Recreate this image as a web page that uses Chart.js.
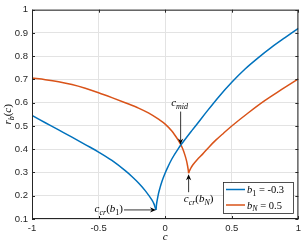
<!DOCTYPE html>
<html>
<head>
<meta charset="utf-8">
<script src="https://cdn.jsdelivr.net/npm/chart.js@4.4.1/dist/chart.umd.min.js"></script>
<style>
  html, body { margin: 0; padding: 0; background: #fff; }
  #wrap { width: 305px; height: 245px; }
</style>
</head>
<body>
<div id="wrap"><canvas id="chart" width="305" height="245"></canvas></div>
<script>
// b_1 = -0.3 (blue), split at the cusp c_cr(b_1)
const blueLeftC = [-1, -0.9, -0.8, -0.7, -0.6, -0.5, -0.4, -0.3, -0.25, -0.2, -0.15, -0.1, -0.085, -0.069];
const blueLeftR = [0.545, 0.514, 0.483, 0.452, 0.42, 0.388, 0.352, 0.308, 0.283, 0.255, 0.222, 0.182, 0.166, 0.139];
const blueRightC = [-0.069, -0.066, -0.062, -0.057, -0.05, -0.039, -0.025, -0.015, 0, 0.017, 0.05, 0.1, 0.133, 0.2, 0.244, 0.3, 0.4, 0.5, 0.6, 0.7, 0.8, 0.9, 1];
const blueRightR = [0.139, 0.158, 0.175, 0.19, 0.21, 0.234, 0.26, 0.276, 0.298, 0.32, 0.358, 0.404, 0.43, 0.48, 0.512, 0.553, 0.624, 0.688, 0.745, 0.794, 0.839, 0.88, 0.92];

// b_N = 0.5 (orange), split at the cusp c_cr(b_N)
const orangeLeftC = [-1, -0.9, -0.8, -0.7, -0.6, -0.5, -0.4, -0.3, -0.2, -0.126, -0.05, 0, 0.05, 0.072, 0.1, 0.116, 0.13, 0.146, 0.16, 0.168, 0.173, 0.176];
const orangeLeftR = [0.706, 0.699, 0.69, 0.678, 0.662, 0.643, 0.622, 0.6, 0.577, 0.556, 0.529, 0.508, 0.478, 0.461, 0.437, 0.421, 0.404, 0.379, 0.351, 0.329, 0.311, 0.297];
const orangeRightC = [0.176, 0.18, 0.19, 0.207, 0.24, 0.281, 0.33, 0.38, 0.44, 0.5, 0.625, 0.75, 0.875, 1];
const orangeRightR = [0.297, 0.304, 0.316, 0.332, 0.355, 0.379, 0.41, 0.439, 0.47, 0.5, 0.557, 0.61, 0.657, 0.703];

const xTicks = [-1, -0.5, 0, 0.5, 1];
const xTickLabels = ["-1", "-0.5", "0", "0.5", "1"];
const yTicks = [0.1, 0.2, 0.3, 0.4, 0.5, 0.6, 0.7, 0.8, 0.9, 1];
const yTickLabels = ["0.1", "0.2", "0.3", "0.4", "0.5", "0.6", "0.7", "0.8", "0.9", "1"];

// annotation anchors (c, r)
const cCr1 = [-0.069, 0.139];
const cMid = [0.116, 0.42];
const cCrN = [0.176, 0.297];

const BLUE = "#0072BD";
const ORANGE = "#D95319";
const AXIS = "#262626";

function toPoints(cs, rs) {
  return cs.map((c, i) => ({ x: c, y: rs[i] }));
}

function lineSet(cs, rs, color) {
  return {
    data: toPoints(cs, rs),
    borderColor: color,
    borderWidth: 1.5,
    pointRadius: 0,
    fill: false,
    cubicInterpolationMode: "monotone"
  };
}

// math-ish text: parts = [[text, style]], style: i, r, si (sub italic), sr (sub roman)
function fontFor(style, size) {
  const sub = style[0] === "s";
  const it = style.indexOf("i") >= 0;
  const s = sub ? Math.round(size * 0.72) : size;
  return (it ? "italic " : "") + s + "px 'Liberation Serif', 'DejaVu Serif', serif";
}

function mathWidth(ctx, parts, size) {
  let w = 0;
  parts.forEach(p => {
    ctx.font = fontFor(p[1], size);
    w += ctx.measureText(p[0]).width;
  });
  return w;
}

function drawMath(ctx, parts, x, y, align, size) {
  const w = mathWidth(ctx, parts, size);
  let cx = align === "center" ? x - w / 2 : align === "right" ? x - w : x;
  ctx.textBaseline = "alphabetic";
  ctx.textAlign = "left";
  parts.forEach(p => {
    ctx.font = fontFor(p[1], size);
    const dy = p[1][0] === "s" ? size * 0.28 : 0;
    ctx.fillText(p[0], cx, y + dy);
    cx += ctx.measureText(p[0]).width;
  });
}

function arrow(ctx, x1, y1, x2, y2) {
  const ang = Math.atan2(y2 - y1, x2 - x1);
  const len = 6, half = 2.6, notch = 4.2;
  ctx.strokeStyle = "#000";
  ctx.lineWidth = 0.8;
  ctx.beginPath();
  ctx.moveTo(x1, y1);
  ctx.lineTo(x2 - Math.cos(ang) * notch, y2 - Math.sin(ang) * notch);
  ctx.stroke();
  ctx.fillStyle = "#000";
  ctx.beginPath();
  ctx.moveTo(x2, y2);
  ctx.lineTo(x2 - Math.cos(ang) * len - Math.sin(ang) * half, y2 - Math.sin(ang) * len + Math.cos(ang) * half);
  ctx.lineTo(x2 - Math.cos(ang) * notch, y2 - Math.sin(ang) * notch);
  ctx.lineTo(x2 - Math.cos(ang) * len + Math.sin(ang) * half, y2 - Math.sin(ang) * len - Math.cos(ang) * half);
  ctx.closePath();
  ctx.fill();
}

const decorPlugin = {
  id: "decor",
  afterDatasetsDraw(chart) {
    const { ctx, chartArea: a, scales } = chart;
    const xs = scales.x, ys = scales.y;
    ctx.save();

    // axes box and inward ticks
    ctx.strokeStyle = AXIS;
    ctx.lineWidth = 1;
    ctx.strokeRect(a.left + 0.5, a.top + 0.5, a.right - a.left - 1, a.bottom - a.top - 1);
    ctx.beginPath();
    xTicks.forEach(v => {
      const px = Math.round(xs.getPixelForValue(v)) + 0.5;
      ctx.moveTo(px, a.bottom); ctx.lineTo(px, a.bottom - 3);
      ctx.moveTo(px, a.top); ctx.lineTo(px, a.top + 3);
    });
    yTicks.forEach(v => {
      const py = Math.round(ys.getPixelForValue(v)) + 0.5;
      ctx.moveTo(a.left, py); ctx.lineTo(a.left + 3, py);
      ctx.moveTo(a.right, py); ctx.lineTo(a.right - 3, py);
    });
    ctx.stroke();

    ctx.fillStyle = "#000";
    // c_cr(b_1)
    const p1x = xs.getPixelForValue(cCr1[0]), p1y = ys.getPixelForValue(cCr1[1]);
    drawMath(ctx, [["c", "i"], ["cr", "si"], ["(", "r"], ["b", "i"], ["1", "sr"], [")", "r"]], p1x - 33, p1y + 2, "right", 11);
    arrow(ctx, p1x - 32, p1y, p1x, p1y);

    // c_mid
    const pmx = xs.getPixelForValue(cMid[0]), pmy = ys.getPixelForValue(cMid[1]);
    drawMath(ctx, [["c", "i"], ["mid", "si"]], pmx - 1, pmy - 39, "center", 11);
    arrow(ctx, pmx, pmy - 33, pmx, pmy);

    // c_cr(b_N)
    const pnx = xs.getPixelForValue(cCrN[0]), pny = ys.getPixelForValue(cCrN[1]);
    drawMath(ctx, [["c", "i"], ["cr", "si"], ["(", "r"], ["b", "i"], ["N", "si"], [")", "r"]], pnx + 10, pny + 29, "center", 11);
    arrow(ctx, pnx, pny + 19, pnx, pny + 1);

    // legend
    const lx = 223.5, ly = 182.5, lw = 70, lh = 31;
    ctx.fillStyle = "#fff";
    ctx.fillRect(lx, ly, lw, lh);
    ctx.strokeStyle = AXIS;
    ctx.lineWidth = 0.8;
    ctx.strokeRect(lx, ly, lw, lh);
    const rows = [
      { color: BLUE, parts: [["b", "i"], ["1", "sr"], [" = -0.3", "r"]], y: 189.5 },
      { color: ORANGE, parts: [["b", "i"], ["N", "si"], [" = 0.5", "r"]], y: 205 }
    ];
    rows.forEach(r => {
      ctx.strokeStyle = r.color;
      ctx.lineWidth = 1.5;
      ctx.beginPath();
      ctx.moveTo(226, r.y); ctx.lineTo(245, r.y);
      ctx.stroke();
      ctx.fillStyle = "#000";
      drawMath(ctx, r.parts, 247, r.y + 3.5, "left", 10.5);
    });

    // axis labels
    ctx.fillStyle = "#000";
    drawMath(ctx, [["c", "i"]], xs.getPixelForValue(0), 240, "center", 11);
    ctx.translate(11, (a.top + a.bottom) / 2);
    ctx.rotate(-Math.PI / 2);
    drawMath(ctx, [["r", "i"], ["b", "si"], ["(", "r"], ["c", "i"], [")", "r"]], 0, 0, "center", 11);
    ctx.restore();
  }
};

new Chart(document.getElementById("chart"), {
  type: "line",
  data: {
    datasets: [
      lineSet(blueLeftC, blueLeftR, BLUE),
      lineSet(blueRightC, blueRightR, BLUE),
      lineSet(orangeLeftC, orangeLeftR, ORANGE),
      lineSet(orangeRightC, orangeRightR, ORANGE)
    ]
  },
  options: {
    responsive: false,
    animation: false,
    devicePixelRatio: 1,
    layout: { padding: { top: 5, right: 3, left: 0, bottom: 0 } },
    plugins: { legend: { display: false }, tooltip: { enabled: false } },
    scales: {
      x: {
        type: "linear",
        min: -1,
        max: 1,
        afterFit: s => { s.height = 26; },
        afterBuildTicks: s => { s.ticks = xTicks.map(v => ({ value: v })); },
        grid: { color: "#e3e3e3", drawTicks: false },
        border: { display: false },
        ticks: {
          padding: 4,
          maxRotation: 0,
          color: AXIS,
          font: { family: "'Liberation Sans', Arial, sans-serif", size: 9.5 },
          callback: v => xTickLabels[xTicks.indexOf(v)]
        }
      },
      y: {
        type: "linear",
        min: 0.1,
        max: 1,
        afterFit: s => { s.width = 32; },
        afterBuildTicks: s => { s.ticks = yTicks.map(v => ({ value: v })); },
        grid: { color: "#e3e3e3", drawTicks: false },
        border: { display: false },
        ticks: {
          padding: 4,
          color: AXIS,
          font: { family: "'Liberation Sans', Arial, sans-serif", size: 9.5 },
          callback: v => yTickLabels[yTicks.indexOf(v)]
        }
      }
    }
  },
  plugins: [decorPlugin]
});
</script>
</body>
</html>
